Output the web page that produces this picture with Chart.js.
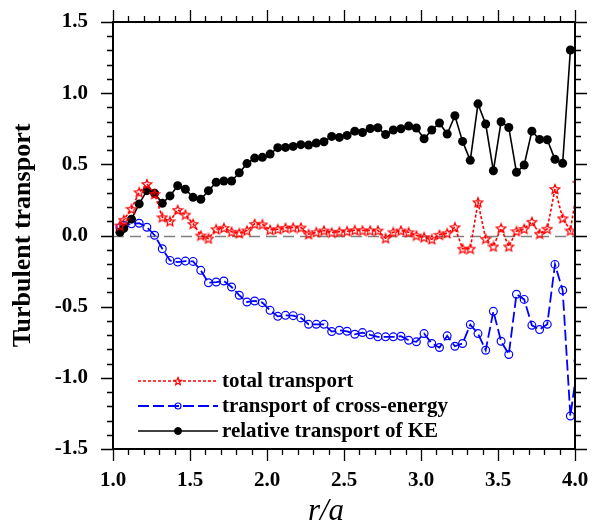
<!DOCTYPE html>
<html>
<head>
<meta charset="utf-8">
<title>Turbulent transport</title>
<script src="https://cdn.jsdelivr.net/npm/chart.js@4.4.0/dist/chart.umd.min.js"></script>
<style>
  html, body { margin: 0; padding: 0; background: #fff; }
  canvas { display: block; }
</style>
</head>
<body>
<canvas id="transportChart" width="595" height="530"></canvas>
<script>
// radial position r/a
const rValues = [
  1.045, 1.07,
  1.12, 1.17, 1.22, 1.27, 1.32, 1.37, 1.42, 1.47, 1.52, 1.57,
  1.62, 1.67, 1.72, 1.77, 1.82, 1.87, 1.92, 1.97, 2.02, 2.07,
  2.12, 2.17, 2.22, 2.27, 2.32, 2.37, 2.42, 2.47, 2.52, 2.57,
  2.62, 2.67, 2.72, 2.77, 2.82, 2.87, 2.92, 2.97, 3.02, 3.07,
  3.12, 3.17, 3.22, 3.27, 3.32, 3.37, 3.42, 3.47, 3.52, 3.57,
  3.62, 3.67, 3.72, 3.77, 3.82, 3.87, 3.92, 3.97,
  4.02
];
const totalTransport = [
  0.07, 0.11,
  0.187, 0.304, 0.362, 0.292, 0.128, 0.1, 0.18, 0.147, 0.082, 0.0,
  -0.021, 0.044, 0.054, 0.026, 0.016, 0.035, 0.082, 0.078, 0.04, 0.044,
  0.054, 0.056, 0.056, 0.009, 0.023, 0.035, 0.021, 0.026, 0.03, 0.037,
  0.035, 0.035, 0.035, -0.019, 0.023, 0.035, 0.023, 0.0, -0.012, -0.026,
  0.005, 0.016, 0.058, -0.093, -0.093, 0.234, -0.023, -0.077, 0.051, -0.077,
  0.03, 0.047, 0.096, 0.012, 0.047, 0.327, 0.121, 0.035,
  0.37
];
const crossEnergyTransport = [
  0.055, 0.07,
  0.082, 0.086, 0.058, 0.002, -0.093, -0.175, -0.187, -0.18, -0.182, -0.245,
  -0.332, -0.327, -0.32, -0.362, -0.42, -0.467, -0.46, -0.472, -0.526, -0.568,
  -0.561, -0.563, -0.579, -0.624, -0.624, -0.624, -0.675, -0.666, -0.673, -0.694,
  -0.682, -0.698, -0.712, -0.712, -0.712, -0.708, -0.736, -0.747, -0.689, -0.759,
  -0.787, -0.705, -0.778, -0.759, -0.626, -0.689, -0.806, -0.533, -0.743, -0.836,
  -0.413, -0.449, -0.631, -0.661, -0.624, -0.203, -0.385, -1.268,
  -0.88
];
const keTransport = [
  0.023, 0.05,
  0.115, 0.222, 0.315, 0.297, 0.226, 0.278, 0.35, 0.325, 0.268, 0.255,
  0.315, 0.374, 0.383, 0.383, 0.441, 0.505, 0.544, 0.549, 0.572, 0.617,
  0.619, 0.626, 0.638, 0.635, 0.65, 0.659, 0.696, 0.689, 0.703, 0.733,
  0.724, 0.752, 0.757, 0.71, 0.741, 0.75, 0.769, 0.755, 0.68, 0.741,
  0.79, 0.713, 0.841, 0.661, 0.528, 0.925, 0.783, 0.455, 0.799, 0.759,
  0.444, 0.495, 0.733, 0.675, 0.673, 0.535, 0.507, 1.303,
  null
];
const xTickLabels = ["1.0", "1.5", "2.0", "2.5", "3.0", "3.5", "4.0"];
const yTickLabels = ["-1.5", "-1.0", "-0.5", "0.0", "0.5", "1.0", "1.5"];
const seriesNames = ["total transport", "transport of cross-energy", "relative transport of KE"];

const SERIF = '"Liberation Serif", "Times New Roman", serif';

function toPoints(vals) {
  return rValues.map((r, i) => ({ x: r, y: vals[i] }));
}

// open five-pointed star marker
function makeStar(size, color) {
  const c = document.createElement("canvas");
  c.width = c.height = size;
  const g = c.getContext("2d");
  const cx = size / 2, cy = size / 2 + 0.5;
  const R = size / 2 - 1, r = R * 0.45;
  g.beginPath();
  for (let k = 0; k < 10; k++) {
    const ang = -Math.PI / 2 + k * Math.PI / 5;
    const rad = k % 2 ? r : R;
    g.lineTo(cx + rad * Math.cos(ang), cy + rad * Math.sin(ang));
  }
  g.closePath();
  g.strokeStyle = color;
  g.lineWidth = 1.2;
  g.stroke();
  return c;
}
const starBig = makeStar(12, "#ff0000");
const starSmall = makeStar(10, "#ff0000");

const zeroLine = {
  id: "zeroLine",
  beforeDatasetsDraw(chart) {
    const { ctx, chartArea: a, scales: { y } } = chart;
    const py = Math.round(y.getPixelForValue(0)) + 0.5;
    ctx.save();
    ctx.strokeStyle = "#808080";
    ctx.lineWidth = 1.3;
    ctx.setLineDash([11, 6]);
    ctx.beginPath();
    ctx.moveTo(a.left, py);
    ctx.lineTo(a.right, py);
    ctx.stroke();
    ctx.restore();
  }
};

// frame on all four sides, major + minor ticks pointing outward, x title
const frameTicks = {
  id: "frameTicks",
  afterDraw(chart) {
    const { ctx, chartArea: a, scales: { x, y } } = chart;
    ctx.save();
    ctx.strokeStyle = "#000";
    ctx.lineWidth = 1.3;
    ctx.beginPath();
    for (let i = 10; i <= 40; i++) {
      const px = Math.round(x.getPixelForValue(i / 10)) + 0.5;
      const len = i % 5 === 0 ? 12 : 6;
      ctx.moveTo(px, a.bottom); ctx.lineTo(px, a.bottom + len);
      ctx.moveTo(px, a.top); ctx.lineTo(px, a.top - len);
    }
    for (let i = -15; i <= 15; i++) {
      const py = Math.round(y.getPixelForValue(i / 10)) + 0.5;
      const len = i % 5 === 0 ? 12 : 6;
      ctx.moveTo(a.left, py); ctx.lineTo(a.left - len, py);
      ctx.moveTo(a.right, py); ctx.lineTo(a.right + len, py);
    }
    ctx.stroke();
    ctx.lineWidth = 2;
    ctx.strokeRect(a.left, a.top, a.right - a.left, a.bottom - a.top);

    ctx.fillStyle = "#000";
    ctx.font = "italic 31px " + SERIF;
    ctx.textAlign = "center";
    ctx.textBaseline = "middle";
    ctx.fillText("r/a", 326, 512);
    ctx.restore();
  }
};

const lineLegend = {
  id: "lineLegend",
  afterDraw(chart) {
    const { ctx } = chart;
    const rows = [381, 406, 431];
    const markers = [
      { pointStyle: starSmall, radius: 4, borderWidth: 1 },
      { pointStyle: "circle", radius: 3, borderWidth: 1.2 },
      { pointStyle: "circle", radius: 3.5, borderWidth: 1 }
    ];
    ctx.save();
    chart.data.datasets.forEach((ds, i) => {
      const yy = rows[i];
      ctx.strokeStyle = ds.borderColor;
      ctx.lineWidth = ds.borderWidth;
      ctx.setLineDash(ds.borderDash || []);
      ctx.beginPath();
      ctx.moveTo(138, yy);
      ctx.lineTo(218, yy);
      ctx.stroke();
      ctx.setLineDash([]);
      ctx.fillStyle = ds.pointBackgroundColor;
      ctx.strokeStyle = ds.pointBorderColor;
      ctx.lineWidth = markers[i].borderWidth;
      Chart.helpers.drawPoint(ctx, { ...markers[i], rotation: 0 }, 178, yy);
      ctx.fillStyle = "#000";
      ctx.font = "bold 21px " + SERIF;
      ctx.textBaseline = "middle";
      ctx.textAlign = "left";
      ctx.fillText(seriesNames[i], 222, yy + 1);
    });
    ctx.restore();
  }
};

const hiddenAxis = (extra) => Object.assign({
  type: "linear",
  grid: { display: false },
  border: { display: false },
  ticks: { display: false }
}, extra);

// invisible tick marks only used to push the labels away from the frame
const spacerGrid = (len) => ({
  display: true,
  drawOnChartArea: false,
  drawTicks: true,
  tickLength: len,
  tickColor: "rgba(0,0,0,0)"
});

new Chart(document.getElementById("transportChart"), {
  type: "scatter",
  data: {
    datasets: [
      {
        label: seriesNames[0],
        data: toPoints(totalTransport),
        showLine: true,
        borderColor: "#ff0000",
        borderWidth: 1.6,
        borderDash: [3, 2],
        pointStyle: starBig,
        pointRadius: 5,
        pointBackgroundColor: "#ff0000",
        pointBorderColor: "#ff0000",
        clip: 0,
        order: 0
      },
      {
        label: seriesNames[1],
        data: toPoints(crossEnergyTransport),
        showLine: true,
        borderColor: "#0000ff",
        borderWidth: 1.8,
        borderDash: [11, 4],
        pointStyle: "circle",
        pointRadius: 3.9,
        pointBorderWidth: 1.2,
        pointBackgroundColor: "rgba(255,255,255,0)",
        pointBorderColor: "#0000ff",
        clip: 0,
        order: 2
      },
      {
        label: seriesNames[2],
        data: toPoints(keTransport),
        showLine: true,
        borderColor: "#000000",
        borderWidth: 1.6,
        pointStyle: "circle",
        pointRadius: 4.5,
        pointBorderWidth: 0,
        pointBackgroundColor: "#000000",
        pointBorderColor: "#000000",
        clip: 0,
        order: 1
      }
    ]
  },
  options: {
    responsive: false,
    animation: false,
    devicePixelRatio: 1,
    layout: { padding: 0, autoPadding: false },
    plugins: { legend: { display: false }, tooltip: { enabled: false } },
    scales: {
      x: {
        type: "linear",
        position: "bottom",
        min: 1,
        max: 4,
        afterFit: (s) => { s.height = 81; },
        grid: spacerGrid(19),
        border: { display: false },
        ticks: {
          stepSize: 0.5,
          autoSkip: false,
          maxRotation: 0,
          padding: 0,
          color: "#000",
          font: { family: SERIF, size: 21, weight: "bold" },
          callback: (v) => xTickLabels[Math.round((v - 1) * 2)]
        }
      },
      xTop: hiddenAxis({ position: "top", min: 1, max: 4, afterFit: (s) => { s.height = 22; } }),
      y: {
        type: "linear",
        position: "left",
        min: -1.5,
        max: 1.5,
        afterFit: (s) => { s.width = 113; },
        grid: spacerGrid(25),
        border: { display: false },
        ticks: {
          stepSize: 0.5,
          autoSkip: false,
          padding: 0,
          color: "#000",
          font: { family: SERIF, size: 21, weight: "bold" },
          callback: (v) => yTickLabels[Math.round((v + 1.5) * 2)]
        },
        title: {
          display: true,
          text: "Turbulent transport",
          color: "#000",
          padding: { top: 8, bottom: 0 },
          font: { family: SERIF, size: 26, weight: "bold", lineHeight: 1.2 }
        }
      },
      yRight: hiddenAxis({ position: "right", min: -1.5, max: 1.5, afterFit: (s) => { s.width = 20; } })
    }
  },
  plugins: [zeroLine, frameTicks, lineLegend]
});
</script>
</body>
</html>
